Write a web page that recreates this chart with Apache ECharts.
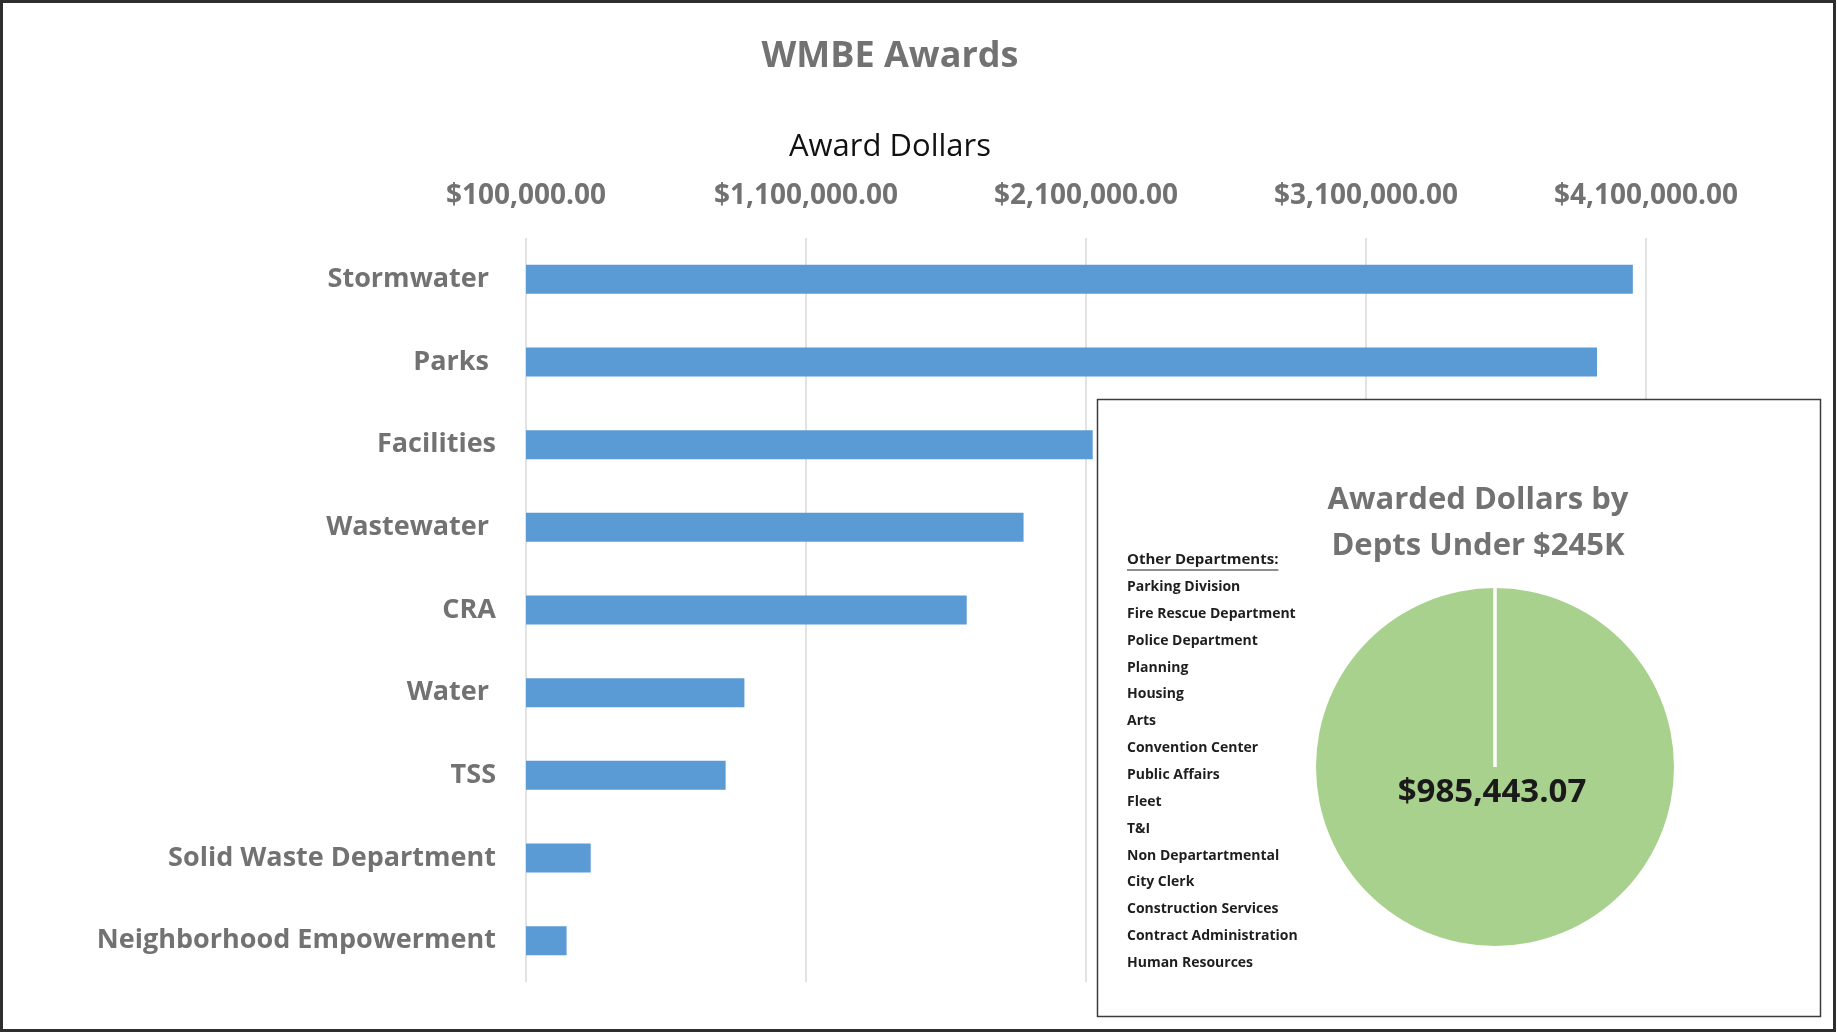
<!DOCTYPE html>
<html style="height: 100%">
<head>
    <meta charset="UTF-8">
    <title>WMBE Awards</title>
</head>
<body style="height: 100%; margin: 0">
    <div id="container" style="width: 1837px; height: 1033px"></div>

    <script src="https://cdn.jsdelivr.net/npm/echarts@6/dist/echarts.min.js"></script>

    <script type="text/javascript">
        // bar chart: award dollars by department
        var departments = ['Stormwater ', 'Parks ', 'Facilities', 'Wastewater ', 'CRA',
            'Water ', 'TSS', 'Solid Waste Department', 'Neighborhood Empowerment'];
        var awardDollars = [4053000, 3925000, 2124000, 1877000, 1674000, 880000, 813000, 331000, 245000];

        // value axis starts at $100,000 and steps by $1,000,000
        var axisStart = 100000;
        var axisStep = 1000000;
        var axisSteps = 4;

        // inset pie: departments under $245K, summed
        var pieName = 'Other Departments';
        var pieValue = 985443.07;
        var otherDepts = ['Parking Division', 'Fire Rescue Department', 'Police Department', 'Planning',
            'Housing', 'Arts', 'Convention Center', 'Public Affairs', 'Fleet', 'T&I',
            'Non Departartmental', 'City Clerk', 'Construction Services', 'Contract Administration',
            'Human Resources'];

        var FONT = '"Open Sans", "Noto Sans", sans-serif';
        var GRAY = '#727272';
        var PIE_CX = 1495, PIE_CY = 767, PIE_R = 179;

        function money(v) {
            return '$' + v.toLocaleString('en-US', {minimumFractionDigits: 2, maximumFractionDigits: 2});
        }

        function textWidth(str, font) {
            var ctx = document.createElement('canvas').getContext('2d');
            ctx.font = font;
            return ctx.measureText(str).width;
        }

        var dom = document.getElementById('container');
        var myChart = echarts.init(dom, null, {renderer: 'canvas'});

        var graphics = [
            {
                type: 'rect', z: 1,
                shape: {x: 1.5, y: 1.5, width: 1833, height: 1029},
                style: {fill: 'none', stroke: '#2e2e2e', lineWidth: 3}
            },
            {
                type: 'rect', z: 10,
                shape: {x: 1097.5, y: 399.5, width: 723, height: 617},
                style: {fill: '#fff', stroke: '#3c3c3c', lineWidth: 1.5}
            },
            {
                // slice edge at 12 o'clock
                type: 'line', z: 30,
                shape: {x1: PIE_CX, y1: PIE_CY - PIE_R, x2: PIE_CX, y2: PIE_CY},
                style: {stroke: '#fff', lineWidth: 3.5}
            }
        ];

        var listX = 1127, headY = 560, firstY = 587, stepY = 26.86;
        var headFont = 'bold 15px ' + FONT;
        graphics.push({
            type: 'text', z: 30, x: listX, y: headY,
            style: {text: 'Other Departments:', font: headFont, fill: '#1e1e1e', verticalAlign: 'middle'}
        });
        graphics.push({
            type: 'line', z: 30,
            shape: {x1: listX, y1: headY + 10, x2: listX + textWidth('Other Departments:', headFont), y2: headY + 10},
            style: {stroke: '#1e1e1e', lineWidth: 1.2}
        });
        otherDepts.forEach(function (name, i) {
            graphics.push({
                type: 'text', z: 30, x: listX, y: firstY + i * stepY,
                style: {text: name, font: 'bold 14px ' + FONT, fill: '#1e1e1e', verticalAlign: 'middle'}
            });
        });

        var option = {
            animation: false,
            textStyle: {fontFamily: FONT},
            title: [
                {
                    text: 'WMBE Awards', left: 890, top: 56.5, padding: 0,
                    textAlign: 'center', textVerticalAlign: 'middle',
                    textStyle: {fontSize: 36, fontWeight: 'bold', color: GRAY, fontFamily: FONT}
                },
                {
                    text: 'Award Dollars', left: 890, top: 147.5, padding: 0,
                    textAlign: 'center', textVerticalAlign: 'middle',
                    textStyle: {fontSize: 31, fontWeight: 'normal', color: '#111', fontFamily: FONT}
                },
                {
                    text: 'Awarded Dollars by\nDepts Under $245K', left: 1478, top: 523, padding: 0, z: 30,
                    textAlign: 'center', textVerticalAlign: 'middle',
                    textStyle: {fontSize: 31, lineHeight: 46, fontWeight: 'bold', color: GRAY, fontFamily: FONT}
                }
            ],
            grid: {left: 526, right: 191, top: 238, bottom: 51, containLabel: false},
            xAxis: {
                type: 'value',
                position: 'top',
                min: 0,
                max: axisStep * axisSteps,
                interval: axisStep,
                axisLine: {show: false},
                axisTick: {show: false},
                splitLine: {lineStyle: {color: '#d9d9d9', width: 1.5}},
                axisLabel: {
                    margin: 27.5,
                    fontSize: 28,
                    fontWeight: 'bold',
                    color: GRAY,
                    formatter: function (v) { return money(v + axisStart); }
                }
            },
            yAxis: {
                type: 'category',
                inverse: true,
                data: departments,
                axisLine: {show: false},
                axisTick: {show: false},
                axisLabel: {margin: 30, fontSize: 27, fontWeight: 'bold', color: GRAY}
            },
            series: [
                {
                    type: 'bar',
                    barWidth: 29,
                    itemStyle: {color: '#5b9bd5'},
                    data: awardDollars.map(function (v) { return v - axisStart; })
                },
                {
                    type: 'pie',
                    z: 20,
                    silent: true,
                    center: [PIE_CX, PIE_CY],
                    radius: PIE_R,
                    startAngle: 90,
                    data: [{name: pieName, value: pieValue}],
                    itemStyle: {color: '#a9d18e'},
                    labelLine: {show: false},
                    label: {
                        show: true,
                        position: 'center',
                        offset: [-3, 26],
                        fontSize: 33,
                        fontWeight: 'bold',
                        color: '#1a1a1a',
                        formatter: function (p) { return money(p.value); }
                    }
                }
            ],
            graphic: graphics
        };

        if (option && typeof option === 'object') {
            myChart.setOption(option, true);
        }
    </script>

</body>
</html>
